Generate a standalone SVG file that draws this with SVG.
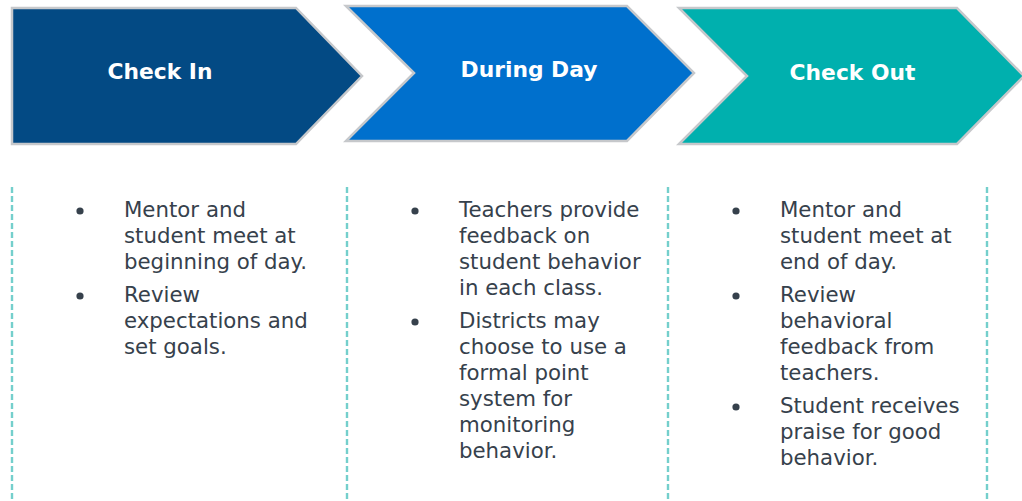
<svg xmlns="http://www.w3.org/2000/svg" width="1022" height="501" viewBox="0 0 1022 501">
  <style>
    .step { stroke: #c6c8cb; stroke-width: 2.5; stroke-linejoin: miter; }
    .title { font-family: "DejaVu Sans", Verdana, sans-serif; font-weight: bold; font-size: 21.8px; fill: #ffffff; text-anchor: middle; }
    .body { font-family: "DejaVu Sans", Verdana, sans-serif; font-size: 21.3px; fill: #36414c; }
    .dot { fill: #36414c; }
    .divider { stroke: #74cfcc; stroke-width: 2.4; stroke-dasharray: 6 3; fill: none; }
  </style>

  <!-- vertical dashed column dividers -->
  <g id="connectors">
    <line class="divider" x1="12" y1="187" x2="12" y2="501"/>
    <line class="divider" x1="347" y1="187" x2="347" y2="501"/>
    <line class="divider" x1="668" y1="187" x2="668" y2="501"/>
    <line class="divider" x1="987" y1="187" x2="987" y2="501"/>
  </g>

  <!-- step 1 -->
  <g id="check-in">
    <polygon class="step" fill="#034a84" points="12,8 296,8 362,76 296,144 12,144"/>
    <text class="title" x="160" y="79">Check In</text>
  </g>

  <!-- step 2 -->
  <g id="during-day">
    <polygon class="step" fill="#0070cd" points="346,6 627,6 694,73 627,141 346,141 414,73"/>
    <text class="title" x="529" y="77">During Day</text>
  </g>

  <!-- step 3 -->
  <g id="check-out">
    <polygon class="step" fill="#00b0ae" points="679,8 957,8 1024,76 957,144 679,144 747,76"/>
    <text class="title" x="852.5" y="80">Check Out</text>
  </g>

  <!-- column 1 details -->
  <g id="check-in-notes">
    <circle class="dot" cx="80" cy="211" r="3.6"/>
    <text class="body" x="124" y="217">Mentor and</text>
    <text class="body" x="124" y="243">student meet at</text>
    <text class="body" x="124" y="269">beginning of day.</text>
    <circle class="dot" cx="80" cy="296" r="3.6"/>
    <text class="body" x="124" y="302">Review</text>
    <text class="body" x="124" y="328">expectations and</text>
    <text class="body" x="124" y="354">set goals.</text>
  </g>

  <!-- column 2 details -->
  <g id="during-day-notes">
    <circle class="dot" cx="415" cy="211" r="3.6"/>
    <text class="body" x="459" y="217">Teachers provide</text>
    <text class="body" x="459" y="243">feedback on</text>
    <text class="body" x="459" y="269">student behavior</text>
    <text class="body" x="459" y="295">in each class.</text>
    <circle class="dot" cx="415" cy="322" r="3.6"/>
    <text class="body" x="459" y="328">Districts may</text>
    <text class="body" x="459" y="354">choose to use a</text>
    <text class="body" x="459" y="380">formal point</text>
    <text class="body" x="459" y="406">system for</text>
    <text class="body" x="459" y="432">monitoring</text>
    <text class="body" x="459" y="458">behavior.</text>
  </g>

  <!-- column 3 details -->
  <g id="check-out-notes">
    <circle class="dot" cx="736" cy="211" r="3.6"/>
    <text class="body" x="780" y="217">Mentor and</text>
    <text class="body" x="780" y="243">student meet at</text>
    <text class="body" x="780" y="269">end of day.</text>
    <circle class="dot" cx="736" cy="296" r="3.6"/>
    <text class="body" x="780" y="302">Review</text>
    <text class="body" x="780" y="328">behavioral</text>
    <text class="body" x="780" y="354">feedback from</text>
    <text class="body" x="780" y="380">teachers.</text>
    <circle class="dot" cx="736" cy="407" r="3.6"/>
    <text class="body" x="780" y="413">Student receives</text>
    <text class="body" x="780" y="439">praise for good</text>
    <text class="body" x="780" y="465">behavior.</text>
  </g>
</svg>
